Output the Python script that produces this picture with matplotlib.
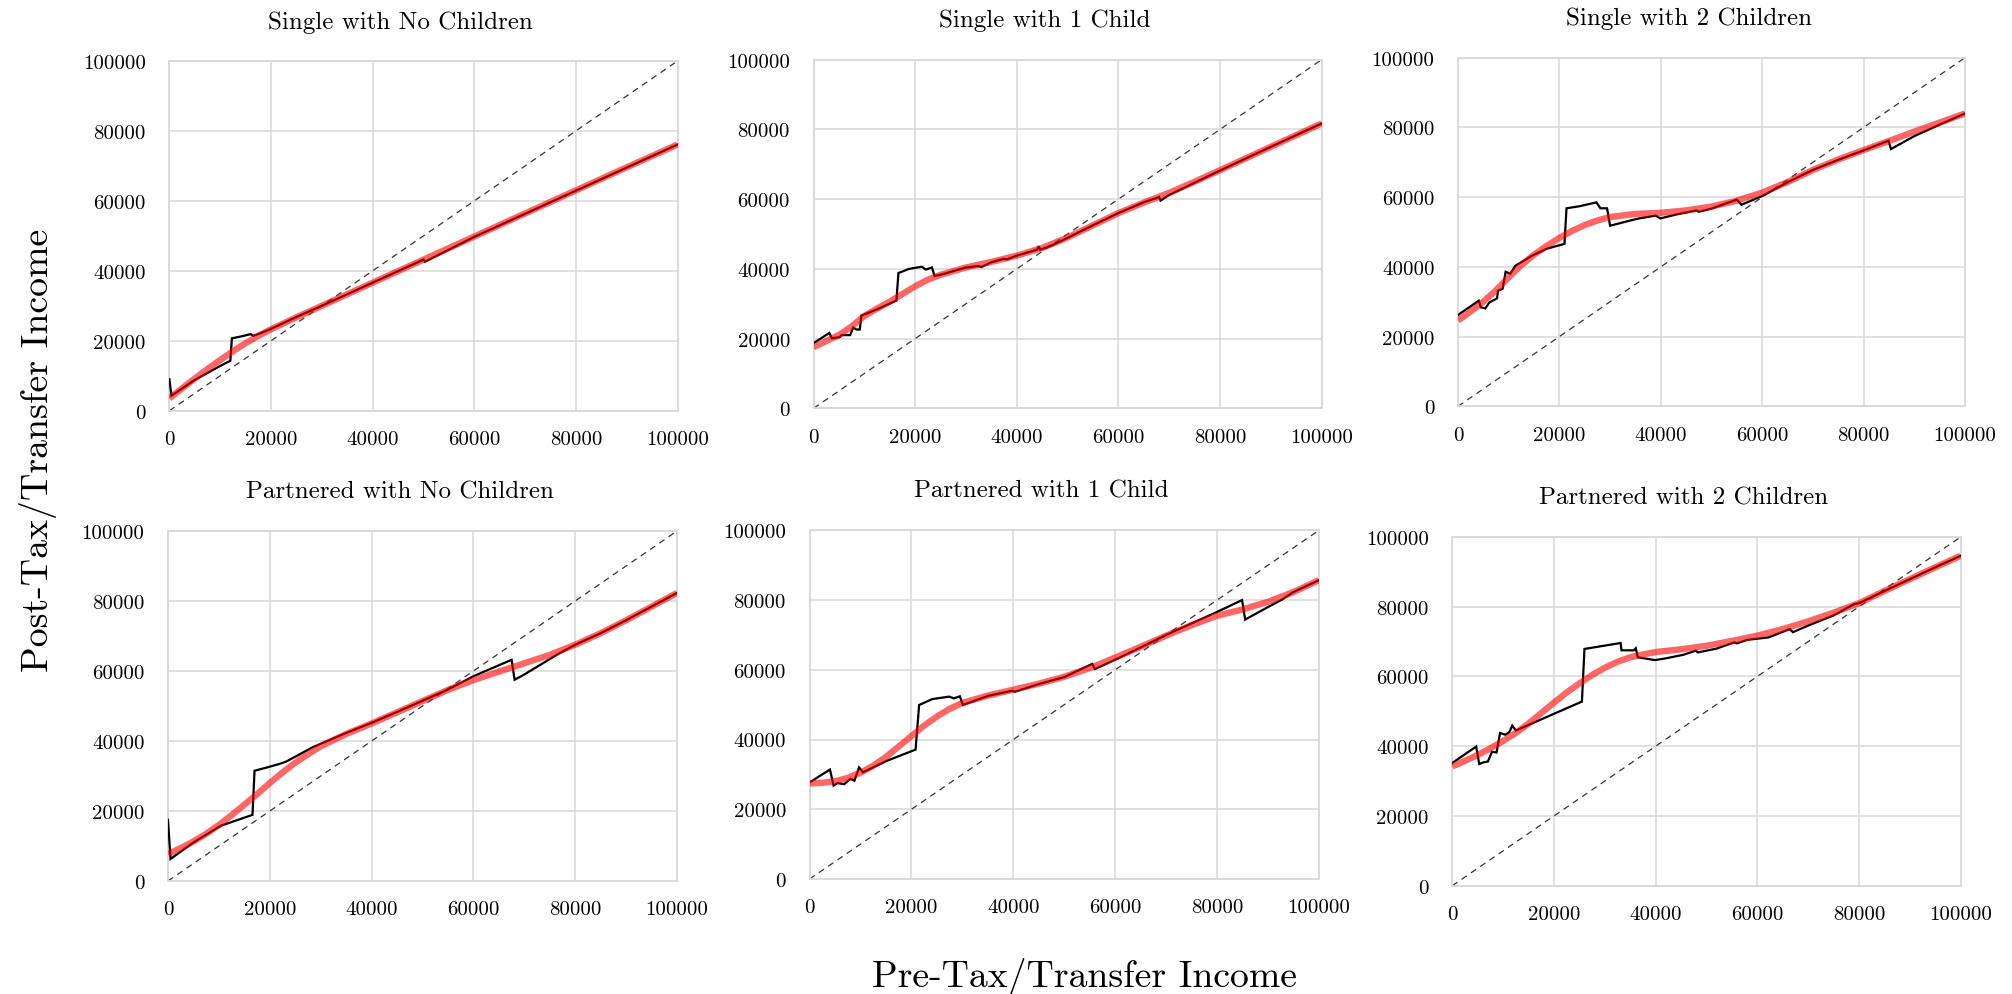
import matplotlib
matplotlib.use("Agg")
import matplotlib.pyplot as plt

plt.rcParams['font.family'] = ['cmr10', 'DejaVu Serif']
plt.rcParams['mathtext.fontset'] = 'cm'
plt.rcParams['axes.unicode_minus'] = False
plt.rcParams['axes.formatter.use_mathtext'] = False

titles = ["Single with No Children", "Single with 1 Child", "Single with 2 Children",
          "Partnered with No Children", "Partnered with 1 Child", "Partnered with 2 Children"]
tick_values = [0, 20000, 40000, 60000, 80000, 100000]
tick_labels = ["0", "20000", "40000", "60000", "80000", "100000"]
diag = [0, 100000]

# Panel 1: Single with No Children
black1_x = [0, 400, 5000, 10000, 12000, 12300, 14000, 16000, 16500, 18000, 20000, 25000, 30000,
            40000, 50000, 50300, 60000, 70000, 80000, 90000, 100000]
black1_y = [9000, 4300, 8800, 12800, 14300, 20700, 21200, 21900, 21400, 22200, 23400, 26800, 30000,
            36600, 43200, 42600, 49700, 56300, 62900, 69500, 76100]
red1_x = [0, 2500, 5000, 7500, 10000, 12500, 15000, 17500, 20000, 25000, 30000, 40000, 50000,
          60000, 70000, 80000, 90000, 100000]
red1_y = [3500, 6400, 9200, 11900, 14500, 17000, 19300, 21400, 23300, 26700, 30000, 36600, 43200,
          49800, 56400, 63000, 69600, 76100]

# Panel 2: Single with 1 Child
black2_x = [0, 3100, 3600, 5100, 5500, 7200, 7800, 8400, 9100, 9400, 12500, 16300, 16700, 18800,
            21300, 22100, 23300, 23800, 25000, 30000, 32500, 33000, 35000, 37500, 38000, 40000,
            44000, 44300, 44600, 47000, 50000, 55000, 60000, 65000, 68000, 68300, 70000, 75000,
            80000, 90000, 100000]
black2_y = [18700, 21600, 20100, 20400, 21000, 21000, 23200, 22600, 22600, 26600, 28400, 30900, 38800,
            40000, 40600, 39800, 40400, 38000, 38300, 40400, 40800, 40500, 41900, 42900, 42700, 43800,
            45500, 46500, 45500, 46800, 48900, 52500, 56000, 59100, 60600, 59600, 61200, 64700,
            68200, 75000, 81700]
red2_x = [0, 2500, 5000, 7500, 10000, 12500, 15000, 17500, 20000, 22500, 25000, 30000, 35000, 40000,
          45000, 50000, 55000, 60000, 65000, 70000, 75000, 80000, 90000, 100000]
red2_y = [17500, 19300, 21000, 23500, 26500, 28600, 30600, 32800, 35000, 36900, 38300, 40400, 42000,
          43800, 46000, 49000, 52500, 56000, 59000, 61800, 65000, 68300, 75000, 81700]

# Panel 3: Single with 2 Children
black3_x = [0, 4100, 4500, 5400, 6200, 7500, 7700, 7900, 8800, 9400, 10300, 11300, 14600, 17500,
            21000, 21400, 24000, 27300, 28100, 29400, 30000, 34000, 35700, 39000, 39900, 43000,
            47000, 47500, 50000, 55000, 55900, 60100, 65200, 70000, 75000, 80000, 84900, 85400,
            90000, 95000, 100000]
black3_y = [26200, 30300, 28400, 28100, 29800, 30800, 31000, 33200, 33700, 38600, 38000, 40300, 43200,
            45200, 46600, 56800, 57400, 58500, 56800, 56800, 51800, 53300, 53900, 54700, 53900, 55000,
            56200, 55800, 56700, 59300, 57800, 60400, 64400, 67800, 70700, 73400, 76200, 73800,
            77500, 80800, 84000]
red3_x = [0, 2500, 5000, 7500, 10000, 12500, 15000, 17500, 20000, 22500, 25000, 27500, 30000, 35000,
          40000, 45000, 50000, 55000, 60000, 65000, 70000, 75000, 80000, 85000, 90000, 95000, 100000]
red3_y = [24600, 27200, 30000, 33300, 37000, 40500, 43500, 46000, 48300, 50300, 52000, 53300, 54300,
          55200, 55500, 56200, 57300, 59000, 61300, 64300, 67800, 70800, 73500, 76100, 78800, 81400,
          84000]

# Panel 4: Partnered with No Children
black4_x = [0, 500, 5000, 10400, 14000, 16600, 17000, 19600, 21800, 23200, 28400, 30000, 35000, 40000,
            45000, 50000, 55000, 60000, 67500, 68100, 70000, 76700, 80000, 85000, 90000, 95000, 100000]
black4_y = [17500, 6300, 11000, 15800, 17600, 18900, 31500, 32500, 33400, 34100, 38200, 39200, 42300,
            45200, 48300, 51500, 54700, 58500, 63200, 57500, 59000, 64900, 67500, 70800, 74500, 78400,
            82300]
red4_x = [0, 2500, 5000, 7500, 10000, 12500, 15000, 17500, 20000, 22500, 25000, 27500, 30000, 35000,
          40000, 45000, 50000, 55000, 60000, 65000, 70000, 75000, 80000, 85000, 90000, 95000, 100000]
red4_y = [7700, 9400, 11300, 13500, 16000, 18800, 21800, 24800, 28000, 31000, 33800, 36200, 38500,
          42000, 45000, 48200, 51400, 54600, 57400, 59800, 62200, 64600, 67500, 70800, 74500, 78400,
          82300]

# Panel 5: Partnered with 1 Child
black5_x = [0, 4000, 4700, 5500, 6800, 7600, 8000, 8800, 9700, 10500, 15000, 20800, 21500, 24100,
            27400, 28300, 29500, 30100, 35000, 39800, 40300, 45000, 50000, 55500, 56000, 60000, 65000,
            70000, 75000, 80000, 84900, 85500, 90000, 92700, 95000, 100000]
black5_y = [27700, 31400, 26800, 27500, 27200, 28200, 28700, 28200, 32000, 30600, 33800, 37100, 49900,
            51600, 52300, 51800, 52400, 49900, 52500, 54000, 53700, 55900, 57900, 61700, 60200, 62900,
            66400, 70000, 73300, 76600, 80000, 74400, 78000, 80100, 82300, 85700]
red5_x = [0, 2500, 5000, 7500, 10000, 12500, 15000, 17500, 20000, 22500, 25000, 27500, 30000, 35000,
          40000, 45000, 50000, 55000, 60000, 65000, 70000, 75000, 80000, 85000, 90000, 95000, 100000]
red5_y = [27400, 27600, 28000, 29000, 30500, 32500, 35000, 38000, 41000, 44000, 46600, 48800, 50500,
          52600, 54300, 56000, 58000, 60500, 63500, 66600, 69800, 72800, 75500, 77300, 79500, 82300,
          85700]

# Panel 6: Partnered with 2 Children
black6_x = [0, 4700, 5300, 6200, 7000, 7800, 8700, 9400, 10400, 11200, 11800, 12500, 15000, 20000,
            25500, 26000, 33100, 33300, 35700, 36100, 36500, 39900, 42000, 45400, 47900, 48300, 52000,
            55500, 56000, 58000, 62200, 66400, 67000, 70000, 75000, 79100, 80000, 85000, 90000, 95000,
            100000]
black6_y = [35200, 39900, 34900, 35400, 35600, 38400, 38200, 43800, 43300, 44000, 45900, 44500, 46100,
            49300, 52800, 67900, 69600, 67500, 67500, 68100, 65500, 64700, 65200, 66200, 67400, 66900,
            68000, 69800, 69500, 70500, 71200, 73600, 72700, 74600, 77500, 80800, 81000, 84500, 87900,
            91300, 94600]
red6_x = [0, 2500, 5000, 7500, 10000, 12500, 15000, 17500, 20000, 22500, 25000, 27500, 30000, 32500,
          35000, 37500, 40000, 45000, 50000, 55000, 60000, 65000, 70000, 75000, 80000, 85000, 90000,
          95000, 100000]
red6_y = [34200, 35800, 37500, 39400, 41500, 43800, 46500, 49500, 52500, 55400, 58000, 60400, 62500,
          64200, 65500, 66300, 67000, 67800, 68800, 70200, 71700, 73600, 75800, 78300, 81000, 84500,
          87900, 91300, 94600]

panels = [
    (black1_x, black1_y, red1_x, red1_y),
    (black2_x, black2_y, red2_x, red2_y),
    (black3_x, black3_y, red3_x, red3_y),
    (black4_x, black4_y, red4_x, red4_y),
    (black5_x, black5_y, red5_x, red5_y),
    (black6_x, black6_y, red6_x, red6_y),
]

W, H = 2012, 995
fig = plt.figure(figsize=(W / 100, H / 100), dpi=100)

# axes boxes in pixels: left, top, right, bottom
boxes = [
    (169.4, 62.0, 677.5, 411.7),
    (813.6, 60.7, 1321.6, 409.3),
    (1458.0, 58.7, 1965.0, 407.3),
    (168.0, 532.0, 677.0, 882.0),
    (809.6, 531.3, 1319.0, 880.0),
    (1452.3, 538.0, 1960.6, 886.7),
]

grid_color = '#d9d9d9'
for i, (l, t, r, b) in enumerate(boxes):
    ax = fig.add_axes([l / W, 1 - b / H, (r - l) / W, (b - t) / H])
    bx, by, rx, ry = panels[i]
    ax.plot(diag, diag, color='#333333', lw=0.9, ls=(0, (5, 4)), zorder=2)
    ax.plot(bx, by, color='black', lw=1.6, zorder=3, solid_joinstyle='miter')
    ax.plot(rx, ry, color='red', lw=4.6, alpha=0.6, zorder=4, solid_capstyle='butt')
    ax.set_xlim(0, 100000)
    ax.set_ylim(0, 100000)
    ax.set_xticks(tick_values)
    ax.set_xticklabels(tick_labels)
    ax.set_yticks(tick_values)
    ax.set_yticklabels(tick_labels)
    ax.grid(True, color=grid_color, lw=1.1)
    ax.set_axisbelow(True)
    for s in ax.spines.values():
        s.set_color(grid_color)
        s.set_linewidth(1.3)
    ax.tick_params(axis='both', length=0, labelsize=15, colors='black')
    ax.tick_params(axis='y', pad=17)
    ax.tick_params(axis='x', pad=14)
    ax.set_title(titles[i], fontsize=18, pad=24, x=0.4547)

fig.text(0.019, 0.547, "Post-Tax/Transfer Income", rotation=90, fontsize=27.3,
         ha='center', va='center')
fig.text(0.539, 0.008, "Pre-Tax/Transfer Income", fontsize=27.2, ha='center', va='baseline')

fig.savefig("out.png", dpi=100)
